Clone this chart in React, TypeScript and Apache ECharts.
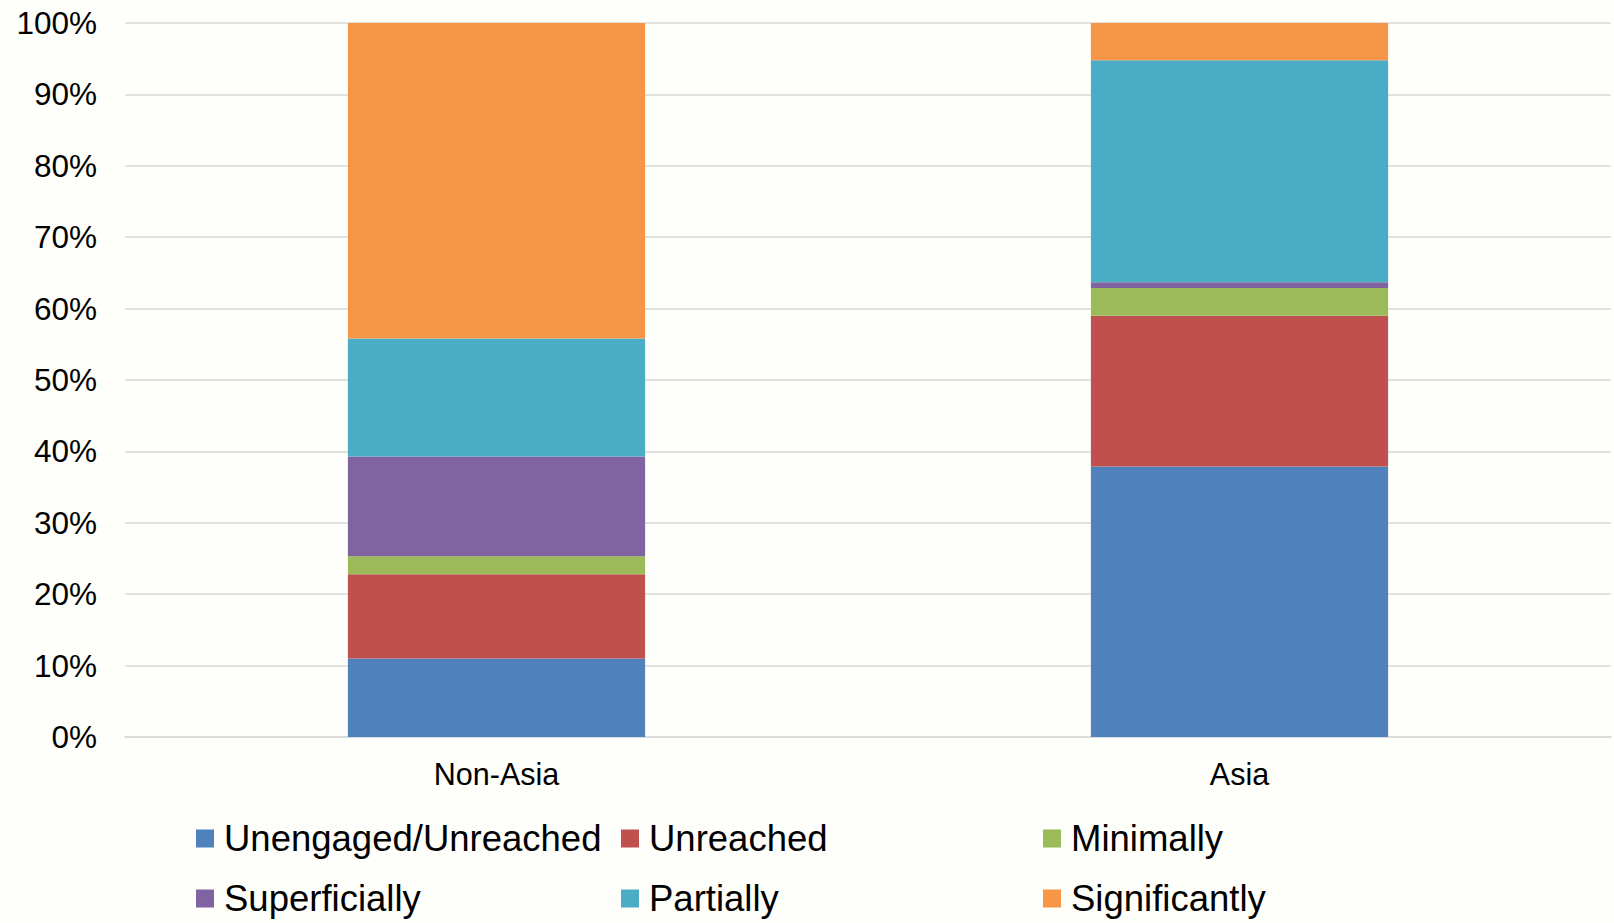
import React, { useEffect, useRef } from "react";
import * as echarts from "echarts";

const categories = ["Non-Asia", "Asia"];
const seriesNames = [
  "Unengaged/Unreached",
  "Unreached",
  "Minimally",
  "Superficially",
  "Partially",
  "Significantly",
];
const unengagedUnreached = [11.0, 37.9];
const unreached = [11.8, 21.1];
const minimally = [2.5, 3.9];
const superficially = [14.0, 0.8];
const partially = [16.5, 31.1];
const significantly = [44.2, 5.2];
const colors = ["#4F81BD", "#C0504D", "#9BBB59", "#8064A2", "#4BACC6", "#F79646"];

const seriesValues = [
  unengagedUnreached,
  unreached,
  minimally,
  superficially,
  partially,
  significantly,
];

const FONT = "'Liberation Sans', Arial, sans-serif";

export default function App() {
  const ref = useRef<HTMLDivElement>(null);
  useEffect(() => {
    if (!ref.current) return;
    const chart = echarts.init(ref.current, null, { renderer: "svg" });
    const legendBase = {
      orient: "vertical",
      top: 820,
      itemWidth: 18,
      itemHeight: 18,
      itemGap: 23,
      padding: 0,
      icon: "rect",
      selectedMode: false,
      textStyle: {
        fontFamily: FONT,
        fontSize: 36.5,
        lineHeight: 36,
        color: "#000",
        padding: [0, 0, 0, 5],
      },
    };
    chart.setOption({
      animation: false,
      backgroundColor: "#fefefa",
      color: colors,
      grid: { left: 125, right: 3, top: 23, bottom: 186 },
      legend: [
        { ...legendBase, left: 196, data: [seriesNames[0], seriesNames[3]] },
        { ...legendBase, left: 621, data: [seriesNames[1], seriesNames[4]] },
        { ...legendBase, left: 1043, data: [seriesNames[2], seriesNames[5]] },
      ],
      xAxis: {
        type: "category",
        data: categories,
        axisLine: { show: true, lineStyle: { color: "#d9d9d9", width: 1.5 } },
        axisTick: { show: false },
        axisLabel: {
          fontFamily: FONT,
          fontSize: 30.5,
          color: "#000",
          margin: 21,
        },
      },
      yAxis: {
        type: "value",
        min: 0,
        max: 100,
        interval: 10,
        axisLine: { show: false },
        axisTick: { show: false },
        splitLine: { lineStyle: { color: "#d9d9d9", width: 1.5 } },
        axisLabel: {
          formatter: "{value}%",
          fontFamily: FONT,
          fontSize: 31.5,
          color: "#000",
          margin: 28,
        },
      },
      series: seriesNames.map((name, i) => ({
        name,
        type: "bar",
        stack: "total",
        barWidth: "40%",
        data: seriesValues[i],
        itemStyle: { color: colors[i] },
      })),
    });
    return () => chart.dispose();
  }, []);
  return (
    <div
      ref={ref}
      style={{
        position: "absolute",
        left: 0,
        top: 0,
        width: 1614,
        height: 923,
      }}
    />
  );
}
